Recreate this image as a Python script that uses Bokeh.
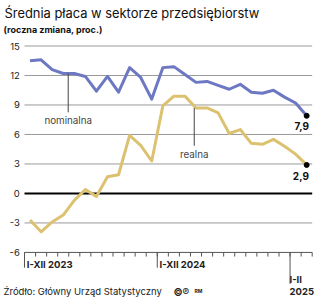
from bokeh.plotting import figure
from bokeh.models import Range1d, Label
from bokeh.embed import file_html
from bokeh.resources import INLINE
from bokeh.core.properties import value

# ---- data (monthly, Jan 2023 .. Feb 2025) ----
months = list(range(26))
nominal = [13.5, 13.6, 12.6, 12.2, 12.2, 11.9, 10.4, 11.9, 10.3, 12.8, 11.8, 9.6,
           12.8, 12.9, 12.1, 11.3, 11.4, 11.0, 10.6, 11.1, 10.3, 10.2, 10.5, 9.8,
           9.2, 7.9]
real = [-2.7, -3.9, -2.9, -2.2, -0.7, 0.4, -0.3, 1.7, 1.9, 5.9, 4.9, 3.3,
        8.9, 9.9, 9.9, 8.7, 8.7, 8.2, 6.1, 6.5, 5.1, 5.0, 5.5, 4.8,
        4.0, 2.9]
yticks = [-6, -3, 0, 3, 6, 9, 12, 15]
ytick_labels = ["-6", "-3", "0", "3", "6", "9", "12", "15"]
month_bounds = list(range(27))
period_starts = [0, 12]
period_labels = ["I-XII 2023", "I-XII 2024"]
last_period_start = 24
last_period_label = ["I-II", "2025"]
end_labels = ["7,9", "2,9"]

FONT = value("Inter")
BLUE = "#6d78c3"
GOLD = "#dcc270"
GRID = "#9a9a9a"
DARK = "#222222"

centers = [m + 0.5 for m in months]

p = figure(width=320, height=302, output_backend="svg", toolbar_location=None,
           x_range=Range1d(-2.169, 26.751), y_range=Range1d(-11.094, 19.629),
           x_axis_location=None, y_axis_location=None, min_border=0)
p.outline_line_color = None
p.background_fill_color = "white"
p.border_fill_color = "white"
p.xgrid.visible = False
p.ygrid.visible = False

# grid lines
grid_y = [t for t in yticks if t not in (0, yticks[0])]
p.segment(x0=[month_bounds[0]] * len(grid_y), x1=[month_bounds[-1]] * len(grid_y),
          y0=grid_y, y1=grid_y, line_color=GRID, line_width=1)
# axis line at bottom value
p.segment(x0=[month_bounds[0]], x1=[month_bounds[-1]], y0=[yticks[0]], y1=[yticks[0]],
          line_color="#555555", line_width=1)
# zero line
p.segment(x0=[month_bounds[0]], x1=[month_bounds[-1]], y0=[0], y1=[0],
          line_color="black", line_width=2)

# month ticks
tick_len = 0.42
p.segment(x0=month_bounds, x1=month_bounds, y0=[yticks[0]] * len(month_bounds),
          y1=[yticks[0] - tick_len] * len(month_bounds), line_color="#555555", line_width=1)
# long ticks for period starts
p.segment(x0=period_starts, x1=period_starts, y0=[yticks[0]] * 2, y1=[yticks[0] - 1.55] * 2,
          line_color="#555555", line_width=1)
p.segment(x0=[last_period_start], x1=[last_period_start], y0=[yticks[0]], y1=[yticks[0] - 3.2],
          line_color="#555555", line_width=1)

# x labels
p.text(x=[s + 0.2 for s in period_starts], y=[yticks[0] - 1.25] * 2, text=period_labels,
       text_font=FONT, text_font_size="9.5px", text_font_style="bold",
       text_color=DARK, text_align="left", text_baseline="middle")
p.text(x=[last_period_start - 0.05] * 2, y=[yticks[0] - 2.75, yticks[0] - 3.95],
       text=last_period_label, text_font=FONT, text_font_size="9.5px",
       text_font_style="bold", text_color=DARK, text_align="left", text_baseline="middle")

# y labels
p.text(x=[-0.42] * len(yticks), y=yticks, text=ytick_labels, text_font=FONT,
       text_font_size="9.5px", text_color=DARK, text_align="right", text_baseline="middle")

# data lines
p.line(centers, real, line_color=GOLD, line_width=3, line_join="round")
p.line(centers, nominal, line_color=BLUE, line_width=3, line_join="round")

# end dots and labels
p.scatter([centers[-1]] * 2, [nominal[-1], real[-1]], size=5, color="black")
p.text(x=[centers[-1] + 0.2] * 2, y=[nominal[-1] - 1.08, real[-1] - 1.08], text=end_labels,
       text_font=FONT, text_font_size="10px", text_font_style="bold", text_color="#111111",
       text_align="right", text_baseline="middle")

# series annotations with leader lines
p.segment(x0=[3.95], x1=[3.95], y0=[nominal[3]], y1=[8.25], line_color="#444444", line_width=1)
p.text(x=[3.95], y=[7.4], text=["nominalna"], text_font=FONT, text_font_size="9.8px",
       text_color="#444444", text_align="center", text_baseline="middle")
p.segment(x0=[15.34], x1=[15.34], y0=[real[15]], y1=[4.85], line_color="#444444", line_width=1)
p.text(x=[15.34], y=[4.0], text=["realna"], text_font=FONT, text_font_size="9.8px",
       text_color="#444444", text_align="center", text_baseline="middle")

# title, subtitle, source (screen units from bottom-left)
p.add_layout(Label(x=4, y=302 - 13, x_units="screen", y_units="screen",
                   text="Średnia płaca w sektorze przedsiębiorstw", text_font="Inter",
                   text_font_size="12.9px", text_color="#111111", text_baseline="middle"))
p.add_layout(Label(x=3, y=302 - 29, x_units="screen", y_units="screen",
                   text="(roczna zmiana, proc.)", text_font="Inter", text_font_style="bold",
                   text_font_size="9px", text_color="#111111", text_baseline="middle"))
p.add_layout(Label(x=3, y=302 - 291, x_units="screen", y_units="screen",
                   text="Źródło: Główny Urząd Statystyczny", text_font="Inter",
                   text_font_size="9.5px", text_color=DARK, text_baseline="middle"))
p.add_layout(Label(x=173, y=302 - 291, x_units="screen", y_units="screen",
                   text="©℗", text_font="Inter", text_font_style="bold",
                   text_font_size="10px", text_color=DARK, text_baseline="middle"))
p.add_layout(Label(x=194, y=302 - 290, x_units="screen", y_units="screen",
                   text="RM", text_font="Inter", text_font_style="bold",
                   text_font_size="5px", text_color=DARK, text_baseline="middle"))

open("out.html", "w").write(file_html(p, INLINE))
